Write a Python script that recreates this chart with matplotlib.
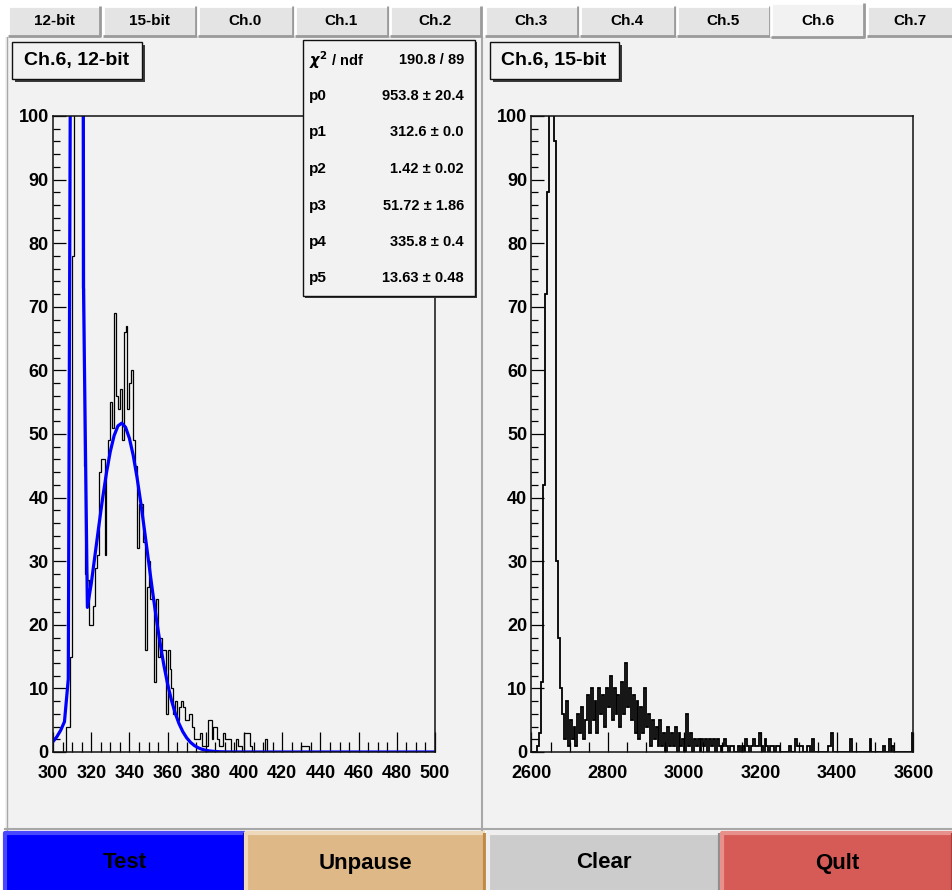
import numpy as np
import matplotlib
matplotlib.use('Agg')
import matplotlib.pyplot as plt
from matplotlib.patches import Rectangle
from matplotlib.ticker import MultipleLocator

plt.rcParams['font.family'] = ['Liberation Sans', 'DejaVu Sans']
plt.rcParams['font.weight'] = 'bold'

# ---- data -------------------------------------------------------------
tab_labels = ['12-bit', '15-bit', 'Ch.0', 'Ch.1', 'Ch.2',
              'Ch.3', 'Ch.4', 'Ch.5', 'Ch.6', 'Ch.7']
active_tab = 'Ch.6'
button_labels = ['Test', 'Unpause', 'Clear', 'Qult']

# 12-bit spectrum, 1 ADC count per bin, 300..500
adc12_lo, adc12_hi, adc12_bin = 300, 500, 1
adc12_counts = [
    0, 0, 0, 0, 0, 0, 0, 4, 4, 15,          # 300
    78, 180, 330, 260, 130, 73, 45, 28, 27, 20,
    20, 23, 29, 31, 44, 46, 46, 31, 45, 49,
    55, 51, 69, 56, 54, 57, 49, 66, 67, 54,
    58, 60, 49, 45, 32, 39, 39, 33, 16, 26,
    30, 24, 24, 11, 24, 15, 18, 16, 16, 6,  # 350
    16, 13, 10, 6, 8, 5, 7, 8, 7, 5,
    5, 6, 6, 4, 2, 2, 2, 3, 1, 1,
    1, 5, 5, 2, 4, 4, 2, 1, 1, 3,
    2, 2, 2, 0, 0, 0, 2, 1, 1, 0,
    3, 3, 3, 1, 0, 0, 0, 0, 0, 0,           # 400
    0, 2, 0, 0, 0, 0, 0, 0, 0, 0,
    0, 0, 0, 0, 0, 0, 0, 0, 0, 0,
    1, 1, 1, 1, 0, 0, 0, 0, 0, 0,
    0, 0, 0, 0, 0, 0, 0, 0, 0, 0,
    0, 0, 0, 0, 0, 0, 0, 0, 0, 0,           # 450
    0, 0, 0, 0, 0, 0, 0, 0, 0, 0,
    0, 0, 0, 0, 0, 0, 0, 0, 0, 0,
    0, 0, 0, 0, 0, 0, 0, 0, 0, 0,
    0, 0, 0, 0, 0, 0, 0, 0, 0, 0,
]

# 15-bit spectrum, 5 counts per bin, 2600..3600
adc15_lo, adc15_hi, adc15_bin = 2600, 3600, 5
adc15_counts = [
    0, 0, 0, 1, 3, 11, 42, 72, 88, 160,      # 2600
    310, 190, 96, 30, 18, 10, 6, 2, 8, 1,
    5, 2, 4, 1, 6, 3, 7, 2, 5, 9,            # 2700
    3, 10, 5, 8, 3, 10, 6, 9, 4, 10,
    7, 12, 5, 10, 6, 9, 4, 11, 6, 14,        # 2800
    7, 10, 5, 9, 3, 8, 2, 7, 3, 10,
    4, 6, 1, 5, 2, 4, 1, 5, 1, 3,            # 2900
    0, 4, 1, 3, 1, 4, 0, 3, 1, 2,
    0, 6, 1, 3, 0, 2, 1, 2, 0, 2,            # 3000
    1, 2, 0, 2, 1, 2, 0, 2, 1, 0,
    1, 2, 1, 0, 1, 1, 0, 0, 1, 0,            # 3100
    1, 0, 2, 1, 0, 1, 2, 1, 1, 3,
    1, 0, 2, 1, 0, 1, 1, 0, 1, 1,            # 3200
    0, 0, 0, 0, 0, 1, 0, 0, 2, 1,
    1, 1, 0, 0, 1, 1, 0, 2, 0, 0,            # 3300
    0, 0, 0, 0, 0, 1, 1, 3, 0, 0,
    0, 0, 0, 0, 0, 0, 0, 2, 0, 0,            # 3400
    0, 0, 0, 0, 0, 0, 0, 2, 0, 0,
    0, 0, 0, 0, 1, 0, 0, 2, 0, 1,            # 3500
    0, 0, 0, 0, 0, 0, 0, 0, 0, 3,
]

# double-gaussian fit result shown in the stats box
fit_chi2, fit_ndf = 190.8, 89
fit_names = ['p0', 'p1', 'p2', 'p3', 'p4', 'p5']
fit_values = [953.8, 312.6, 1.42, 51.72, 335.8, 13.63]
fit_errors = [20.4, 0.0, 0.02, 1.86, 0.4, 0.48]
fit_decimals = [1, 1, 2, 2, 1, 2]

# ---- figure / pixel overlay ------------------------------------------
W, H = 953, 890
fig = plt.figure(figsize=(W / 100, H / 100), dpi=100, facecolor='white')

gui = fig.add_axes([0, 0, 1, 1], zorder=0)
gui.set_xlim(0, W)
gui.set_ylim(H, 0)
gui.axis('off')

top = fig.add_axes([0, 0, 1, 1], zorder=5)
top.set_xlim(0, W)
top.set_ylim(H, 0)
top.axis('off')
top.patch.set_alpha(0)


def bevel(ax, x0, y0, x1, y1, face, light, dark, lw=1.5):
    ax.add_patch(Rectangle((x0, y0), x1 - x0, y1 - y0,
                           facecolor=face, edgecolor='none'))
    ax.plot([x0, x0, x1], [y1, y0, y0], color=light, lw=lw,
            solid_capstyle='butt')
    ax.plot([x0, x1, x1], [y1, y1, y0], color=dark, lw=lw,
            solid_capstyle='butt')


# canvas area
gui.add_patch(Rectangle((5, 37), W - 5, 794, facecolor='#f2f2f2',
                        edgecolor='none'))
gui.plot([7, 7], [37, 830], color='#a8a8a8', lw=1)
gui.plot([482, 482], [37, 830], color='#a8a8a8', lw=1.5)
gui.plot([5, W], [829, 829], color='#a8a8a8', lw=1.5)

# tab strip
tab_x = [(8, 100), (103, 196), (198, 293), (295, 388), (390, 481),
         (485, 578), (580, 675), (677, 770), (771, 864), (867, 953)]
for label, (x0, x1) in zip(tab_labels, tab_x):
    if label == active_tab:
        bevel(gui, x0, 3, x1, 37, '#f2f2f2', '#ffffff', '#9a9a9a', lw=2)
        gui.add_patch(Rectangle((x0 + 1, 33), x1 - x0 - 2, 6,
                                facecolor='#f2f2f2', edgecolor='none'))
    else:
        bevel(gui, x0, 6, x1, 36, '#e4e4e4', '#ffffff', '#9a9a9a', lw=2)
    gui.text((x0 + x1) / 2, 21, label, ha='center', va='center',
             fontsize=11, fontweight='bold')

# buttons
btn_x = [(5, 245), (246, 485), (488, 720), (722, W)]
btn_style = [('#0000ff', '#4848ff', '#0000b0'),
             ('#deb887', '#efd9bb', '#c08a45'),
             ('#cccccc', '#efefef', '#8e8e8e'),
             ('#d65a55', '#e8908c', '#a8403b')]
for label, (x0, x1), (face, light, dark) in zip(button_labels, btn_x, btn_style):
    bevel(gui, x0, 833, x1, H + 2, face, light, dark, lw=3)
    gui.text((x0 + x1) / 2, 863, label, ha='center', va='center',
             fontsize=16, fontweight='bold')


def label_box(ax, x0, y0, x1, y1, shadow=3):
    ax.add_patch(Rectangle((x0 + shadow, y0 + shadow), x1 - x0, y1 - y0,
                           facecolor='#3a3a3a', edgecolor='none'))
    ax.add_patch(Rectangle((x0, y0), x1 - x0, y1 - y0,
                           facecolor='#f2f2f2', edgecolor='#111111', lw=1))


label_box(top, 12, 42, 142, 79)
top.text(77, 61, 'Ch.6, 12-bit', ha='center', va='center',
         fontsize=14, fontweight='bold')
label_box(top, 490, 42, 619, 79)
top.text(554, 61, 'Ch.6, 15-bit', ha='center', va='center',
         fontsize=14, fontweight='bold')

# fit statistics box
label_box(top, 303, 40, 475, 296, shadow=2)
row_y = [60, 96, 132, 169, 206, 242, 278]
top.text(309, row_y[0], r'$\chi^{2}$ / ndf', ha='left', va='center',
         fontsize=10.5, fontweight='bold')
top.text(464, row_y[0], f'{fit_chi2:.1f} / {fit_ndf}', ha='right',
         va='center', fontsize=10.5, fontweight='bold')
for y, name, v, e, d in zip(row_y[1:], fit_names, fit_values, fit_errors,
                            fit_decimals):
    top.text(309, y, name, ha='left', va='center', fontsize=11,
             fontweight='bold')
    top.text(464, y, f'{v:.{d}f} \u00b1 {e:.{d}f}', ha='right', va='center',
             fontsize=10.5, fontweight='bold')


# ---- histograms ------------------------------------------------------
def frame(x0, x1, y0=116, y1=752):
    ax = fig.add_axes([x0 / W, 1 - y1 / H, (x1 - x0) / W, (y1 - y0) / H],
                      zorder=2)
    ax.set_facecolor('#f2f2f2')
    for s in ax.spines.values():
        s.set_linewidth(1.1)
        s.set_color('#111111')
    ax.set_ylim(0, 100)
    ax.yaxis.set_major_locator(MultipleLocator(10))
    ax.yaxis.set_minor_locator(MultipleLocator(2))
    ax.tick_params(axis='both', which='both', direction='in', width=0.9,
                   labelsize=13, top=False, right=False)
    ax.tick_params(axis='y', which='major', length=9.5, pad=3)
    ax.tick_params(axis='y', which='minor', length=5)
    ax.tick_params(axis='x', which='major', length=14.5, pad=9)
    ax.tick_params(axis='x', which='minor', length=7.2)
    return ax


ax1 = frame(53, 435)
edges12 = np.arange(adc12_lo, adc12_hi + adc12_bin, adc12_bin)
ax1.stairs(adc12_counts, edges12, color='black', lw=0.9)
xf = np.linspace(adc12_lo, adc12_hi, 101)
p0, p1, p2, p3, p4, p5 = fit_values
yf = (p0 * np.exp(-0.5 * ((xf - p1) / p2) ** 2)
      + p3 * np.exp(-0.5 * ((xf - p4) / p5) ** 2))
ax1.plot(xf, yf, color='#0000ff', lw=2.3)
ax1.set_xlim(adc12_lo, adc12_hi)
ax1.xaxis.set_major_locator(MultipleLocator(20))
ax1.xaxis.set_minor_locator(MultipleLocator(5))

ax2 = frame(531.5, 913.5)
edges15 = np.arange(adc15_lo, adc15_hi + adc15_bin, adc15_bin)
ax2.stairs(adc15_counts, edges15, color='black', lw=1.3)
ax2.set_xlim(adc15_lo, adc15_hi)
ax2.xaxis.set_major_locator(MultipleLocator(200))
ax2.xaxis.set_minor_locator(MultipleLocator(50))

for ax in (ax1, ax2):
    for lab in ax.get_xticklabels() + ax.get_yticklabels():
        lab.set_fontweight('bold')

fig.savefig('out.png', dpi=100, facecolor=fig.get_facecolor())
